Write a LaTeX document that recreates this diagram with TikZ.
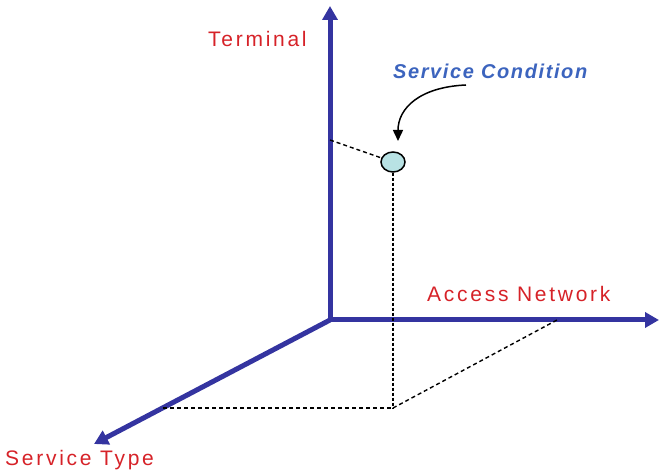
\documentclass[tikz,border=0pt]{standalone}
\usepackage{fontspec}
\setmainfont{Liberation Sans}
\usetikzlibrary{arrows.meta,shapes.geometric}

\definecolor{axisblue}{RGB}{52,52,160}
\definecolor{labelred}{RGB}{214,34,40}
\definecolor{condblue}{RGB}{60,100,190}
\definecolor{condfill}{RGB}{184,226,228}

\newfontfamily\spacedfont[LetterSpace=13]{Liberation Sans}
\newfontfamily\condfont[LetterSpace=8]{Liberation Sans Bold Italic}

\tikzset{
    axis/.style={line width=5pt, color=axisblue, -{Triangle[length=14pt,width=15pt]}},
    axislabel/.style={text=labelred, font=\fontsize{21}{25}\spacedfont, inner sep=0pt, anchor=base west},
    proj/.style={line width=1.4pt, dash pattern=on 4pt off 3pt},
    projdot/.style={line width=1.6pt, dash pattern=on 3pt off 2pt},
}

\begin{document}
\begin{tikzpicture}[x=1pt, y=-1pt]

    \useasboundingbox (0,0) rectangle (659,470);

    \coordinate (O)  at (330,320);
    \coordinate (Tt) at (330,6);
    \coordinate (An) at (659,320);
    \coordinate (St) at (94,444);

    % Ejes
    \draw[axis] (O) -- (Tt);
    \draw[axis] (O) -- (An);
    \draw[axis] (O) -- (St);

    \node (terminal) [axislabel] at (208,47) {Terminal};
    \node (access)   [axislabel] at (427,302) {Access Network};
    \node (stype)    [axislabel] at (5,465) {Service Type};

    % Punto de la condicion
    \node (cond) [ellipse, draw, line width=1.5pt, fill=condfill,
        minimum width=24pt, minimum height=20pt, inner sep=0pt] at (393,162) {};
    \node (condlabel) [text=condblue, inner sep=0pt, anchor=base west,
        font=\fontsize{20}{24}\condfont] at (393,79) {Service Condition};

    % Proyecciones
    \coordinate (pT) at (330,140);
    \coordinate (pB) at (393,408);
    \coordinate (pS) at (163,408);
    \coordinate (pA) at (557,320);

    \draw[proj] (pT) -- (cond);
    \draw[projdot] (cond.south) -- (pB);
    \draw[proj] (pS) -- (pB);
    \draw[proj] (pB) -- (pA);

    \coordinate (cstart) at (466,85);
    \draw[line width=1.5pt, -{Triangle[length=11pt,width=10pt]}]
        (cstart) .. controls (420,87) and (398,108) .. (398,141);

\end{tikzpicture}
\end{document}
